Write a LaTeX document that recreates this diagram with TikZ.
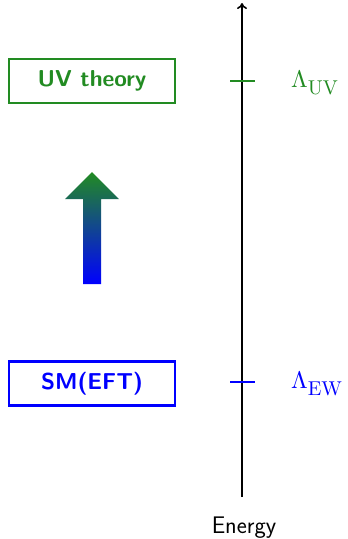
\documentclass[tikz,border=0pt]{standalone}
\usetikzlibrary{arrows.meta}
\definecolor{uvgreen}{RGB}{34,139,34}
\definecolor{ewblue}{RGB}{0,0,255}
\newcommand{\scalelam}[1]{\scalebox{2.4}{$\Lambda$}\raisebox{-7pt}{\scalebox{2.0}{$\mathrm{#1}$}}}
\begin{document}
\begin{tikzpicture}[x=1pt,y=-1pt,
  scalebox/.style={draw=#1,text=#1,line width=2.6pt,minimum width=166pt,minimum height=44pt,
    inner sep=0pt,font=\fontsize{23}{27}\selectfont\sffamily\bfseries},
  scalelabel/.style={text=#1,anchor=base west,inner sep=0pt},
  tick/.style={draw=#1,line width=1.6pt}]
\useasboundingbox (0,0) rectangle (348,539);
% axis
\coordinate (axbot) at (242,497);
\coordinate (axtop) at (242,3);
\draw[line width=1.6pt,-{To[length=6pt,width=10pt]}] (axbot) -- (axtop);
\node[font=\fontsize{24}{28}\selectfont\sffamily,inner sep=0pt,anchor=base] (energy) at (244,533) {Energy};
% boxes
\node[scalebox=uvgreen] (uv) at (92,81) {UV theory};
\node[scalebox=ewblue] (ew) at (92,383.5) {SM(EFT)};
% ticks
\coordinate (tuvl) at (230,81); \coordinate (tuvr) at (255,81);
\coordinate (tewl) at (230,382); \coordinate (tewr) at (255,382);
\draw[tick=uvgreen] (tuvl) -- (tuvr);
\draw[tick=ewblue] (tewl) -- (tewr);
\node[scalelabel=uvgreen] (luv) at (291,87) {\scalelam{UV}};
\node[scalelabel=ewblue] (lew) at (291,388) {\scalelam{EW}};
% gradient arrow
\shade[top color=uvgreen,bottom color=ewblue]
  (83,284) -- (83,199) -- (65,199) -- (92,172) -- (119,199) -- (101,199) -- (101,284) -- cycle;
\end{tikzpicture}
\end{document}
